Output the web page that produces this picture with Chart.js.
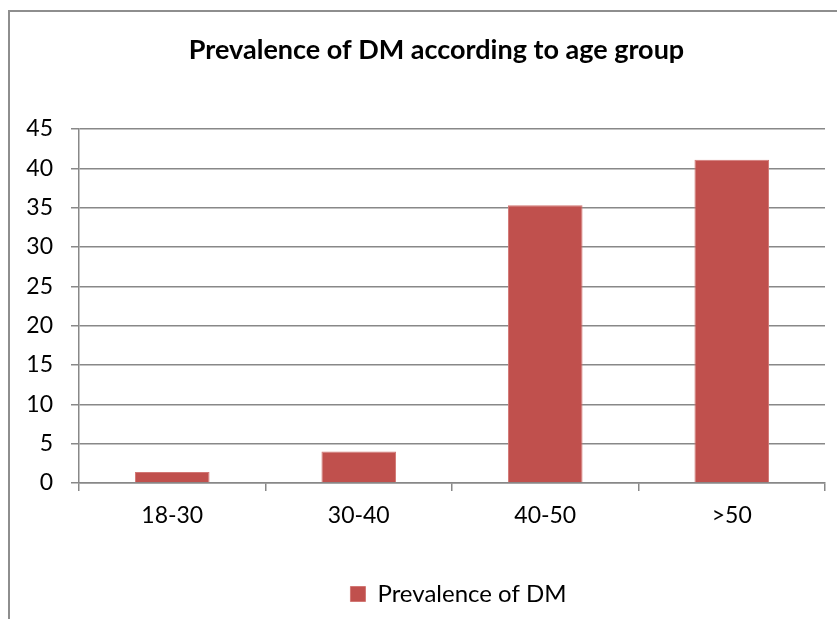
<!DOCTYPE html>
<html>
<head>
<meta charset="utf-8">
<script src="https://cdn.jsdelivr.net/npm/chart.js@4/dist/chart.umd.min.js"></script>
<style>
  html, body { margin: 0; padding: 0; background: #fff; }
  #wrap { position: relative; width: 837px; height: 619px; }
  #frame { position: absolute; left: 8px; top: 10px; right: 0; bottom: 0;
           border-left: 2px solid #8e8e8e; border-top: 2px solid #8e8e8e; }
  canvas { position: absolute; left: 0; top: 0; }
</style>
</head>
<body>
<div id="wrap">
  <div id="frame"></div>
  <canvas id="chart" width="837" height="619"></canvas>
</div>
<script>
// Age groups and diabetes prevalence (%)
const ageGroups = ['18-30', '30-40', '40-50', '>50'];
const prevalence = [1.4, 4.0, 35.3, 41.1];
const seriesName = 'Prevalence of DM';
const chartTitle = 'Prevalence of DM according to age group';
const yMin = 0, yMax = 45, yStep = 5;

const FONT = 'Lato, "Open Sans", sans-serif';
const GRID = '#888888';

// Nudge the title and legend horizontally after layout
const boxShift = {
  id: 'boxShift',
  afterLayout(chart) {
    const t = chart.titleBlock, l = chart.legend;
    if (t) { t.left += 24; t.right += 24; }
    if (l) { l.left += 46; l.right += 46; }
  }
};

new Chart(document.getElementById('chart'), {
  type: 'bar',
  data: {
    labels: ageGroups,
    datasets: [{
      label: seriesName,
      data: prevalence,
      backgroundColor: '#C0504D',
      borderColor: '#D27774',
      borderWidth: 1,
      borderSkipped: 'bottom',
      categoryPercentage: 1,
      barPercentage: 0.4
    }]
  },
  plugins: [boxShift],
  options: {
    responsive: false,
    animation: false,
    devicePixelRatio: 1,
    layout: { padding: { left: 0, right: 12, top: 0, bottom: 3 } },
    plugins: {
      title: {
        display: true,
        text: chartTitle,
        color: '#000',
        font: { family: FONT, size: 27, weight: 'bold', lineHeight: 1.2 },
        padding: { top: 34, bottom: 62.6 }
      },
      legend: {
        position: 'bottom',
        labels: {
          color: '#000',
          font: { family: FONT, size: 24 },
          boxWidth: 15,
          boxHeight: 15,
          padding: 9
        }
      },
      tooltip: { enabled: false }
    },
    scales: {
      x: {
        grid: { drawOnChartArea: false, drawTicks: true, tickLength: 8, color: GRID, lineWidth: 1.5 },
        border: { display: true, color: GRID, width: 1.5 },
        ticks: { color: '#000', font: { family: FONT, size: 23 }, padding: 11 },
        afterFit: (s) => { s.height = 90; }
      },
      y: {
        min: yMin,
        max: yMax,
        grid: { color: GRID, lineWidth: 1.5, tickLength: 8 },
        border: { display: true, color: GRID, width: 1.5 },
        ticks: { stepSize: yStep, color: '#000', font: { family: FONT, size: 23 }, padding: 18 },
        afterFit: (s) => { s.width = 79; }
      }
    }
  }
});
</script>
</body>
</html>
